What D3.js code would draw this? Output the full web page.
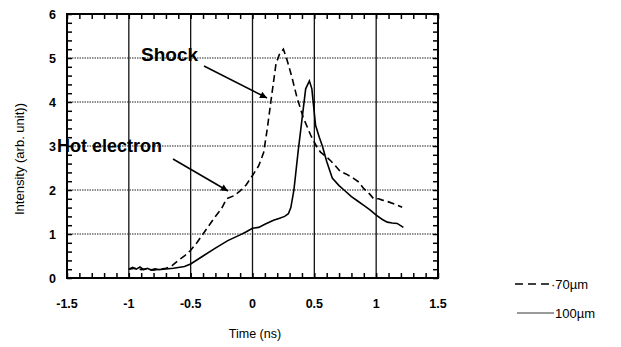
<!DOCTYPE html>
<html><head><meta charset="utf-8">
<script src="https://cdn.jsdelivr.net/npm/d3@7"></script>
<style>body{margin:0;background:#fff}svg{display:block}text{font-family:"Liberation Sans",Arial,sans-serif}</style>
</head><body><svg id="c" width="621" height="347"></svg>
<script>
const xTicks = [-1.5, -1, -0.5, 0, 0.5, 1, 1.5];
const xTickLabels = ["-1.5", "-1", "-0.5", "0", "0.5", "1", "1.5"];
const yTicks = [0, 1, 2, 3, 4, 5, 6];
const seriesNames = ["70\u00b5m", "100\u00b5m"];
// 70 um (dashed)
const t70 = [-1, -0.95, -0.9, -0.85, -0.8, -0.75, -0.7, -0.65, -0.6, -0.55, -0.5, -0.45, -0.4, -0.35, -0.3, -0.25, -0.21, -0.15, -0.1, -0.05, 0, 0.05, 0.09, 0.12, 0.15, 0.19, 0.22, 0.25, 0.28, 0.32, 0.36, 0.41, 0.47, 0.52, 0.55, 0.6, 0.63, 0.67, 0.71, 0.76, 0.82, 0.86, 0.9, 0.95, 0.98, 1.02, 1.05, 1.1, 1.15, 1.21];
const v70 = [0.2, 0.22, 0.19, 0.21, 0.18, 0.2, 0.22, 0.28, 0.4, 0.5, 0.63, 0.8, 1.0, 1.2, 1.4, 1.58, 1.8, 1.87, 1.98, 2.12, 2.33, 2.55, 2.85, 3.4, 4.04, 4.87, 5.1, 5.2, 4.95, 4.55, 4.1, 3.65, 3.25, 2.98, 2.86, 2.75, 2.67, 2.55, 2.42, 2.36, 2.26, 2.18, 2.03, 1.9, 1.8, 1.8, 1.77, 1.73, 1.68, 1.61];
// 100 um (solid)
const t100 = [-1, -0.97, -0.94, -0.91, -0.88, -0.85, -0.82, -0.79, -0.76, -0.72, -0.68, -0.64, -0.6, -0.55, -0.5, -0.4, -0.3, -0.2, -0.1, -0.05, 0, 0.05, 0.1, 0.17, 0.22, 0.26, 0.29, 0.31, 0.335, 0.37, 0.4, 0.43, 0.46, 0.48, 0.51, 0.54, 0.565, 0.6, 0.645, 0.7, 0.74, 0.8, 0.85, 0.9, 0.95, 1.0, 1.05, 1.09, 1.13, 1.17, 1.22];
const v100 = [0.2, 0.24, 0.2, 0.25, 0.19, 0.22, 0.18, 0.21, 0.19, 0.2, 0.21, 0.22, 0.24, 0.26, 0.32, 0.5, 0.68, 0.85, 0.98, 1.05, 1.13, 1.15, 1.22, 1.31, 1.36, 1.4, 1.46, 1.6, 2.0, 2.9, 3.6, 4.3, 4.48, 4.3, 3.47, 3.2, 3.0, 2.65, 2.27, 2.1, 2.0, 1.85, 1.75, 1.65, 1.55, 1.43, 1.33, 1.27, 1.25, 1.24, 1.15];

const svg = d3.select("#c");
const L = 67, R = 438, T = 14, B = 278;
const x = d3.scaleLinear().domain([-1.5, 1.5]).range([L, R]);
const y = d3.scaleLinear().domain([0, 6]).range([B, T]);

// grid
const g = svg.append("g");
g.selectAll(".hg").data(yTicks.filter(d => d > 0 && d < 6)).enter().append("line")
  .attr("x1", L).attr("x2", R).attr("y1", d => y(d)).attr("y2", d => y(d))
  .attr("stroke", "#222").attr("stroke-width", 1).attr("stroke-dasharray", "1.5,1");
g.selectAll(".vg").data(xTicks.filter(d => d > -1.5 && d < 1.5)).enter().append("line")
  .attr("y1", T).attr("y2", B).attr("x1", d => x(d)).attr("x2", d => x(d))
  .attr("stroke", "#111").attr("stroke-width", 1.3);

// minor ticks via d3 axes (inward)
const xMinor = d3.range(0, 31).map(i => -1.5 + i * 0.1);
const yMinor = d3.range(0, 31).map(i => i * 0.2);
function styleAxis(sel) {
  sel.select(".domain").remove();
  sel.selectAll(".tick line").attr("stroke", "#000").attr("stroke-width", 1.5);
  sel.selectAll(".tick text").remove();
}
svg.append("g").attr("transform", `translate(0,${B})`)
  .call(d3.axisBottom(x).tickValues(xMinor).tickSize(-5).tickFormat(() => "")).call(styleAxis);
svg.append("g").attr("transform", `translate(0,${T})`)
  .call(d3.axisTop(x).tickValues(xMinor).tickSize(-5).tickFormat(() => "")).call(styleAxis);
svg.append("g").attr("transform", `translate(${L},0)`)
  .call(d3.axisLeft(y).tickValues(yMinor).tickSize(-5).tickFormat(() => "")).call(styleAxis);
svg.append("g").attr("transform", `translate(${R},0)`)
  .call(d3.axisRight(y).tickValues(yMinor).tickSize(-5).tickFormat(() => "")).call(styleAxis);

// frame
svg.append("rect").attr("x", L).attr("y", T).attr("width", R - L).attr("height", B - T)
  .attr("fill", "none").attr("stroke", "#000").attr("stroke-width", 2);

// tick labels
svg.selectAll(".xl").data(xTicks).enter().append("text")
  .attr("x", d => x(d)).attr("y", 308).attr("text-anchor", "middle")
  .attr("font-size", 12.5).attr("font-weight", "bold").text((d, i) => xTickLabels[i]);
svg.selectAll(".yl").data(yTicks).enter().append("text")
  .attr("x", 56).attr("y", d => y(d) + 4.5).attr("text-anchor", "end")
  .attr("font-size", 12.5).attr("font-weight", "bold").text(d => d);

// axis titles
svg.append("text").attr("x", 255).attr("y", 338).attr("text-anchor", "middle")
  .attr("font-size", 12.5).text("Time (ns)");
svg.append("text").attr("transform", "translate(24,159) rotate(-90)").attr("text-anchor", "middle")
  .attr("font-size", 13).text("Intensity (arb. unit))");

// curves
const line = d3.line().x(d => x(d[0])).y(d => y(d[1])).curve(d3.curveLinear);
svg.append("path").datum(d3.zip(t70, v70)).attr("d", line)
  .attr("fill", "none").attr("stroke", "#000").attr("stroke-width", 1.6).attr("stroke-dasharray", "7,4");
svg.append("path").datum(d3.zip(t100, v100)).attr("d", line)
  .attr("fill", "none").attr("stroke", "#000").attr("stroke-width", 1.6);

// annotations
svg.append("defs").append("marker").attr("id", "ah").attr("viewBox", "0 0 10 10")
  .attr("refX", 10).attr("refY", 5).attr("markerWidth", 10).attr("markerHeight", 7)
  .attr("markerUnits", "userSpaceOnUse").attr("orient", "auto")
  .append("path").attr("d", "M0,0 L10,5 L0,10 z").attr("fill", "#000");
svg.append("text").attr("x", 141).attr("y", 61).attr("font-size", 19).attr("font-weight", "bold").text("Shock");
svg.append("line").attr("x1", 204).attr("y1", 66).attr("x2", 267).attr("y2", 98)
  .attr("stroke", "#000").attr("stroke-width", 1.5).attr("marker-end", "url(#ah)");
svg.append("text").attr("x", 57).attr("y", 152).attr("font-size", 18).attr("font-weight", "bold").text("Hot electron");
svg.append("line").attr("x1", 173).attr("y1", 159).attr("x2", 228).attr("y2", 191)
  .attr("stroke", "#000").attr("stroke-width", 1.5).attr("marker-end", "url(#ah)");

// legend
const lg = svg.append("g");
lg.append("line").attr("x1", 515).attr("x2", 550).attr("y1", 284).attr("y2", 284)
  .attr("stroke", "#000").attr("stroke-width", 1.3).attr("stroke-dasharray", "8,5");
lg.append("text").attr("x", 551).attr("y", 289).attr("font-size", 13).text("\u00b7" + seriesNames[0]);
lg.append("line").attr("x1", 517).attr("x2", 554).attr("y1", 313).attr("y2", 313)
  .attr("stroke", "#000").attr("stroke-width", 0.8);
lg.append("text").attr("x", 555).attr("y", 318).attr("font-size", 13).text(seriesNames[1]);
</script></body></html>
